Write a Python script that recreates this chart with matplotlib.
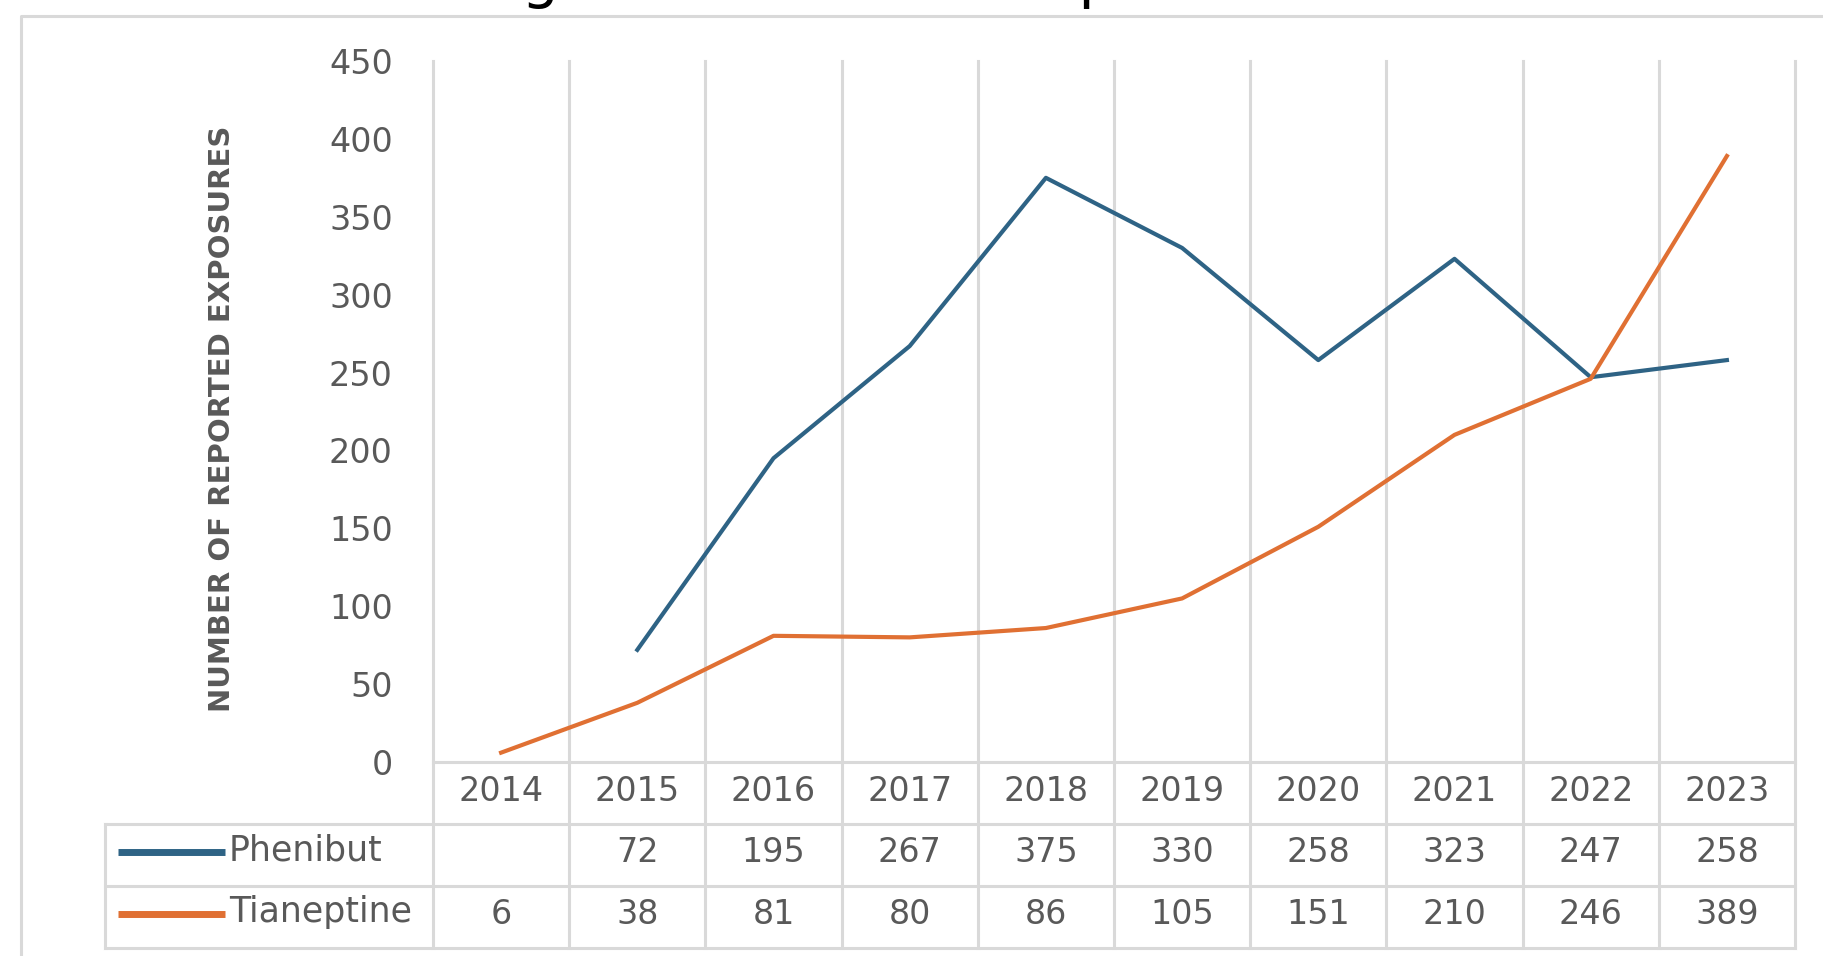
import matplotlib
matplotlib.use("Agg")
import matplotlib.pyplot as plt
import numpy as np
from matplotlib.lines import Line2D

# Data
years = ["2014", "2015", "2016", "2017", "2018", "2019", "2020", "2021", "2022", "2023"]
phenibut = [np.nan, 72, 195, 267, 375, 330, 258, 323, 247, 258]
tianeptine = [6, 38, 81, 80, 86, 105, 151, 210, 246, 389]
series_names = ["Phenibut", "Tianeptine"]
y_ticks = list(range(0, 451, 50))

BLUE = "#2E6385"
ORANGE = "#E07033"
GRID = "#D9D9D9"
TEXT = "#595959"

W, H = 1824, 956


def fx(px):
    return px / W


def fy(py):
    return 1 - py / H


fig = plt.figure(figsize=(W / 100, H / 100), dpi=100)
fig.patch.set_facecolor("white")

# outer chart border (only top and left show)
fig.add_artist(Line2D([fx(21), fx(21), 1.01], [-0.01, fy(16), fy(16)],
                      transform=fig.transFigure, color=GRID, lw=2.2))

# title, clipped by the top of the image
fig.text(fx(380), fy(-3), "Rising Poison Center Reports", fontsize=42.5,
         ha="left", va="baseline", color="black")

# main plot
ax = fig.add_axes([fx(433), fy(762), fx(1795) - fx(433), fy(61) - fy(762)])
x = np.arange(len(years))
ax.plot(x, phenibut, color=BLUE, lw=3.0, solid_joinstyle="round", zorder=3)
ax.plot(x, tianeptine, color=ORANGE, lw=3.0, solid_joinstyle="round", zorder=3)
ax.set_xlim(-0.5, len(years) - 0.5)
ax.set_ylim(0, 450)
ax.set_yticks(y_ticks)
ax.set_xticks([])
for s in ax.spines.values():
    s.set_visible(False)
for b in np.arange(-0.5, len(years)):
    ax.axvline(b, color=GRID, lw=2.2, zorder=0, clip_on=False)
ax.tick_params(axis="y", length=0, pad=29, labelsize=24, labelcolor=TEXT)

fig.text(fx(222), fy(419), "NUMBER OF REPORTED EXPOSURES", rotation=90,
         ha="center", va="center", fontsize=21, color=TEXT,
         fontweight="bold")

# data table under the plot
cat_w = (1795 - 433) / len(years)
xl = -0.5 - (433 - 105) / cat_w
xr = len(years) - 0.5
tab = fig.add_axes([fx(105), fy(948), fx(1795) - fx(105), fy(762) - fy(948)])
tab.set_xlim(xl, xr)
tab.set_ylim(0, 3)
tab.axis("off")

for b in np.arange(-0.5, len(years)):
    tab.plot([b, b], [0, 3], color=GRID, lw=2.2, clip_on=False)
tab.plot([-0.5, xr], [3, 3], color=GRID, lw=2.2, clip_on=False)
for yy in [2, 1, 0]:
    tab.plot([xl, xr], [yy, yy], color=GRID, lw=2.2, clip_on=False)
tab.plot([xl, xl], [0, 2], color=GRID, lw=2.2, clip_on=False)

for i, yr in enumerate(years):
    tab.text(i, 2.52, yr, ha="center", va="center", fontsize=24, color=TEXT)

rows = [phenibut, tianeptine]
colors = [BLUE, ORANGE]
for r, (name, vals, c) in enumerate(zip(series_names, rows, colors)):
    yc = 1.5 - r
    for i, v in enumerate(vals):
        if not np.isnan(v):
            tab.text(i, yc + 0.04, f"{int(v)}", ha="center", va="center",
                     fontsize=24, color=TEXT)
    lx0 = xl + (118 - 105) / cat_w
    lx1 = xl + (225 - 105) / cat_w
    tab.plot([lx0, lx1], [yc + 0.05, yc + 0.05], color=c, lw=5,
             solid_capstyle="butt")
    tab.text(xl + (229 - 105) / cat_w, yc + 0.08, name, ha="left", va="center",
             fontsize=25, color=TEXT)

plt.savefig("out.png", dpi=100, facecolor="white")
